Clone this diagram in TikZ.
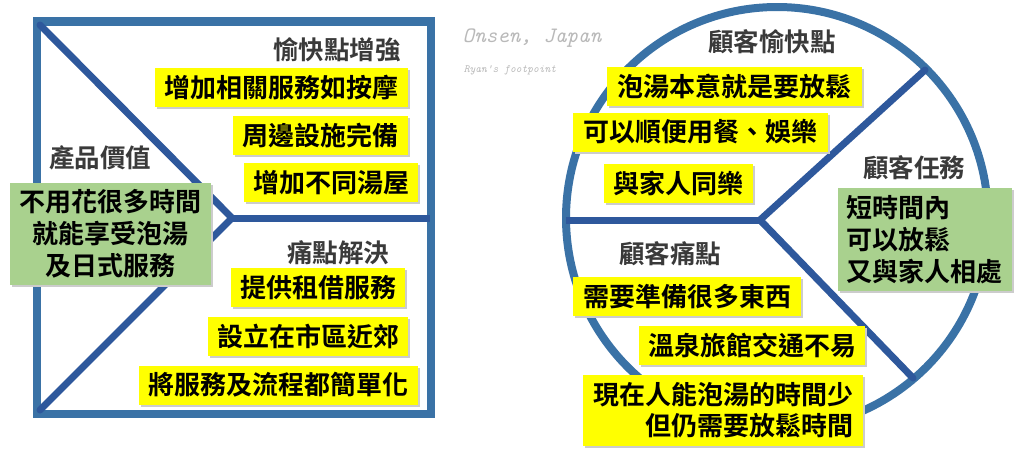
\documentclass[tikz,border=0pt]{standalone}
\usepackage{fontspec}
\setmainfont{Noto Sans CJK TC}[BoldFont={Noto Sans CJK TC Bold}]
\usetikzlibrary{shadows}
\definecolor{frameblue}{RGB}{58,114,166}
\definecolor{spokeblue}{RGB}{46,88,156}
\definecolor{yfill}{RGB}{255,255,0}
\definecolor{gfill}{RGB}{169,209,142}
\definecolor{headgray}{RGB}{58,58,58}
\definecolor{wmgray}{RGB}{185,185,185}
\begin{document}
\begin{tikzpicture}[x=1pt,y=-1pt,
  framestyle/.style={draw=frameblue,line width=8.5pt},
  spokestyle/.style={draw=spokeblue,line width=7pt,line cap=round,line join=miter},
  boxshadow/.style={drop shadow={shadow xshift=2pt,shadow yshift=-2pt,fill=black!20,opacity=1}},
  ybox/.style={fill=yfill,inner sep=0pt,minimum height=39pt,align=center,
    font=\fontsize{26}{31}\selectfont\bfseries,boxshadow},
  gbox/.style={fill=gfill,inner sep=0pt,font=\fontsize{26}{32}\selectfont\bfseries,boxshadow},
  heading/.style={text=headgray,inner sep=0pt,font=\fontsize{25.5}{30}\selectfont\bfseries},
  wm/.style={text=wmgray,inner sep=0pt}
]
\useasboundingbox (0,0) rectangle (1024,464);

% ---------- left square ----------
\coordinate (sqTL) at (37,21.5);
\coordinate (sqBR) at (431,414);
\coordinate (dTL) at (40,25);
\coordinate (dBL) at (40,410);
\coordinate (hubL) at (232,218);
\coordinate (hR) at (430,218);
\draw[framestyle] (sqTL) rectangle (sqBR);
\draw[spokestyle] (dTL) -- (hubL) -- (dBL);
\draw[spokestyle,line cap=butt] (hubL) -- (hR);

\node[heading] (hL1) at (337,50) {愉快點增強};
\node[heading] (hL2) at (100,158) {產品價值};
\node[heading] (hL3) at (338,253) {痛點解決};

\node[ybox,minimum width=253pt] (l1) at (281.5,87.5) {增加相關服務如按摩};
\node[ybox,minimum width=175pt] (l2) at (320.5,135.5) {周邊設施完備};
\node[ybox,minimum width=174pt] (l3) at (331,182.5) {增加不同湯屋};
\node[ybox,minimum width=174pt] (l4) at (318,287.5) {提供租借服務};
\node[ybox,minimum width=200pt] (l5) at (308,336) {設立在市區近郊};
\node[ybox,minimum width=279pt] (l6) at (278.5,385) {將服務及流程都簡單化};
\node[gbox,minimum width=201pt,minimum height=102pt,align=center] (lg) at (110.5,234)
  {不用花很多時間\\就能享受泡湯\\及日式服務};

% ---------- watermark ----------
\node[wm,font=\fontsize{22}{24}\selectfont\ttfamily\itshape] (wm1) at (532,38) {Onsen, Japan};
\node[wm,font=\fontsize{11}{12}\selectfont\ttfamily\itshape] (wm2) at (510,70) {Ryan's footpoint};

% ---------- right circle ----------
\coordinate (cc) at (777,218);
\coordinate (hubR) at (760,220);
\coordinate (cW) at (566,220);
\coordinate (cNE) at (925,70);
\coordinate (cSE) at (913,378);
\draw[framestyle,line width=8pt] (cc) circle (211);
\draw[spokestyle,line cap=butt] (cW) -- (hubR);
\draw[spokestyle] (cNE) -- (hubR) -- (cSE);

\node[heading] (hR1) at (772,42) {顧客愉快點};
\node[heading] (hR2) at (914,168) {顧客任務};
\node[heading] (hR3) at (670,254) {顧客痛點};

\node[ybox,minimum width=255pt] (r1) at (734.5,86.5) {泡湯本意就是要放鬆};
\node[ybox,minimum width=255pt] (r2) at (700.5,132) {可以順便用餐、娛樂};
\node[ybox,minimum width=149pt] (r3) at (678.5,183) {與家人同樂};
\node[ybox,minimum width=228pt] (r4) at (687,296.5) {需要準備很多東西};
\node[ybox,minimum width=226pt] (r5) at (752,345.5) {溫泉旅館交通不易};
\node[ybox,minimum width=280pt,minimum height=71pt,align=right] (r6) at (723,410.5)
  {現在人能泡湯的時間少\\但仍需要放鬆時間};
\node[gbox,minimum width=174pt,minimum height=103pt,align=left,text width=158pt] (rg) at (925,239.5)
  {短時間內\\可以放鬆\\又與家人相處};
\end{tikzpicture}
\end{document}
